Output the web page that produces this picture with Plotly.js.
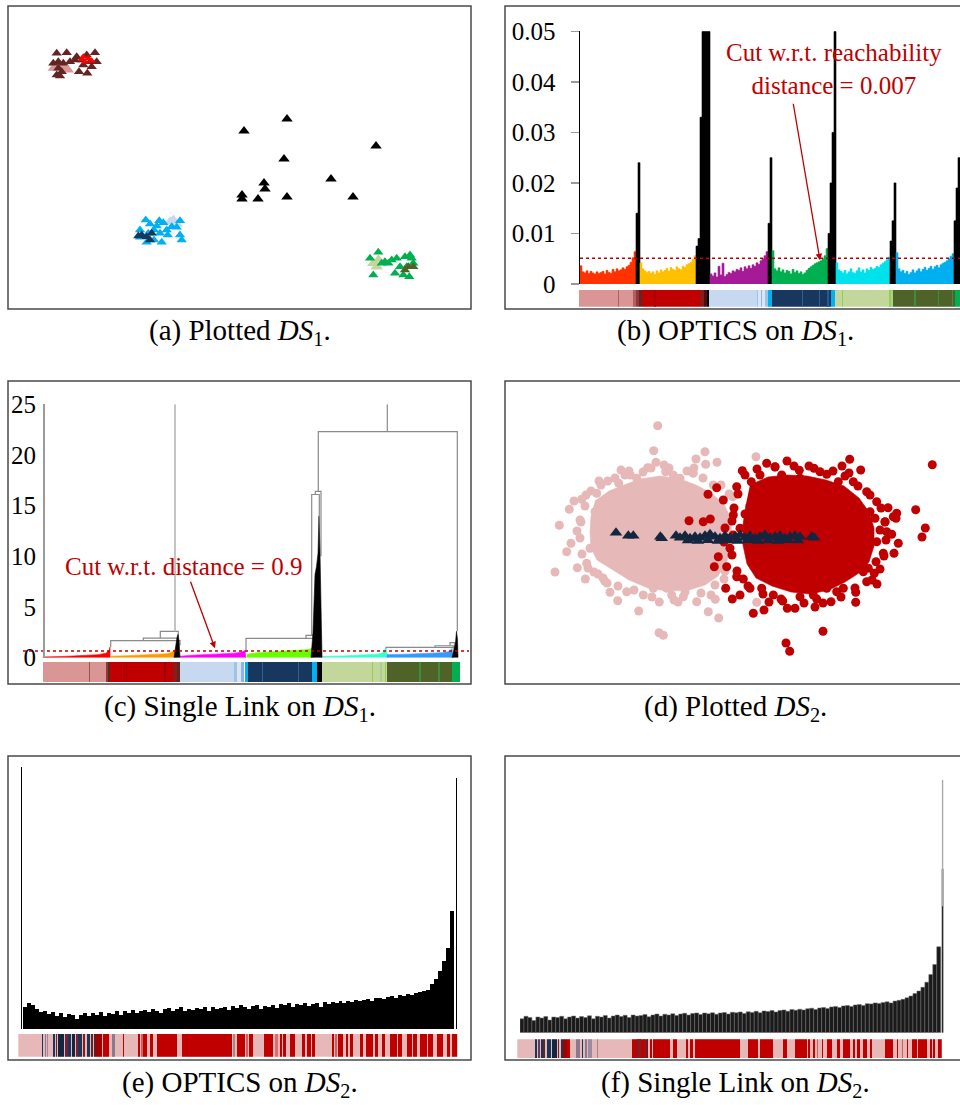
<!DOCTYPE html>
<html>
<head>
<meta charset="utf-8">
<script src="https://cdn.plot.ly/plotly-3.0.1.min.js"></script>
<style>html,body{margin:0;padding:0;background:#fff;}#chart{width:960px;height:1105px;}</style>
</head>
<body>
<div id="chart"></div>
<script>
// ---------------- (a) Plotted DS1 ----------------
const ds1BlackX = [23.6, 27.9, 36.8, 27.6, 25.6, 25.7, 23.4, 23.4, 25.0, 27.9, 32.3, 34.5];
const ds1BlackY = [17.8, 19.0, 16.3, 15.0, 12.6, 12.0, 11.4, 11.0, 11.0, 11.2, 13.0, 11.2];
const ds1PinkX = [4.53, 5.03, 5.7, 6.03, 5.37];
const ds1PinkY = [24.07, 24.23, 24.07, 23.9, 24.3];
const ds1BrownX = [4.87, 5.87, 6.87, 7.87, 8.7, 4.53, 5.03, 5.53, 6.2, 6.7, 7.37, 8.2, 8.87, 5.03, 5.37, 5.2, 4.87, 7.1, 7.93, 7.53, 8.37];
const ds1BrownY = [25.57, 25.63, 25.23, 25.4, 25.63, 24.57, 24.73, 24.57, 24.73, 24.9, 24.9, 24.73, 24.73, 24.07, 23.73, 23.3, 23.4, 23.73, 23.57, 24.4, 24.23];
const ds1RedX = [7.37, 7.7, 8.03, 8.37, 7.53];
const ds1RedY = [24.97, 24.73, 25.07, 24.83, 25.23];
const ds1LightBlueX = [16.2, 16.53, 16.87];
const ds1LightBlueY = [8.73, 8.9, 8.5];
const ds1BlueX = [13.77, 14.2, 15.13, 15.53, 17.2, 16.87, 13.2, 14.03, 14.6, 15.2, 15.97, 17.2, 17.37, 13.87, 14.6, 15.37, 13.2, 15.87, 14.87, 16.37];
const ds1BlueY = [8.9, 8.5, 8.83, 8.63, 8.83, 8.17, 7.9, 7.57, 7.9, 7.57, 7.4, 7.4, 6.9, 6.67, 6.9, 6.67, 7.17, 7.9, 8.3, 8.23];
const ds1NavyX = [13.37, 13.87, 14.37, 14.2, 13.03];
const ds1NavyY = [7.4, 7.23, 7.57, 6.9, 7.3];
const ds1LightGreenX = [36.53, 37.03, 36.87];
const ds1LightGreenY = [4.57, 4.9, 4.23];
const ds1GreenX = [36.2, 37.03, 37.7, 38.37, 38.87, 39.7, 40.2, 40.53, 36.53, 38.7, 39.53, 40.13, 39.2, 39.87, 38.03, 37.37, 40.37];
const ds1GreenY = [5.07, 5.67, 4.73, 4.9, 5.07, 5.23, 5.4, 4.57, 3.4, 3.57, 3.4, 3.23, 4.23, 4.23, 4.57, 4.57, 5.07];
const ds1OliveX = [40.03, 40.53, 39.7];
const ds1OliveY = [4.23, 4.23, 3.9];

// ---------------- (b) OPTICS on DS1 (reachability) ----------------
const reachRed = [0.0036,0.0024,0.0022,0.0026,0.0021,0.0025,0.0022,0.0020,0.0024,0.0021,0.0023,0.0025,0.0020,0.0027,0.0023,0.0021,0.0029,0.0024,0.0030,0.0026,0.0028,0.0032,0.0029,0.0034,0.0037,0.0043,0.0052,0.0064];
const reachSpike1 = [0.0140, 0.0240];
const reachYellow = [0.0042,0.0030,0.0026,0.0023,0.0025,0.0021,0.0024,0.0019,0.0026,0.0022,0.0028,0.0024,0.0027,0.0031,0.0025,0.0033,0.0029,0.0027,0.0034,0.0030,0.0028,0.0035,0.0033,0.0038,0.0040,0.0043,0.0049,0.0056];
const reachSpike2 = [0.0075,0.0090,0.0330,0.0500,0.0500,0.0500,0.0500];
const reachPurple = [0.0020,0.0016,0.0022,0.0014,0.0035,0.0018,0.0041,0.0015,0.0019,0.0023,0.0021,0.0026,0.0024,0.0029,0.0027,0.0032,0.0025,0.0034,0.0030,0.0036,0.0031,0.0038,0.0035,0.0042,0.0039,0.0046,0.0050,0.0056,0.0064];
const reachSpike3 = [0.0120, 0.0250];
const reachGreen = [0.0066,0.0030,0.0026,0.0032,0.0024,0.0028,0.0022,0.0027,0.0025,0.0020,0.0029,0.0023,0.0026,0.0021,0.0024,0.0019,0.0022,0.0027,0.0031,0.0034,0.0037,0.0040,0.0042,0.0044,0.0046,0.0050,0.0056,0.0070];
const reachSpike4 = [0.0100, 0.0200, 0.0300, 0.0500];
const reachCyan = [0.0042,0.0028,0.0025,0.0022,0.0027,0.0020,0.0024,0.0030,0.0023,0.0021,0.0026,0.0032,0.0024,0.0028,0.0022,0.0030,0.0027,0.0033,0.0029,0.0031,0.0035,0.0033,0.0038,0.0041,0.0044,0.0048,0.0053];
const reachSpike5 = [0.0085, 0.0125, 0.0200];
const reachBlue = [0.0062,0.0030,0.0024,0.0027,0.0021,0.0025,0.0019,0.0023,0.0028,0.0022,0.0026,0.0030,0.0024,0.0029,0.0033,0.0027,0.0031,0.0035,0.0029,0.0034,0.0037,0.0032,0.0038,0.0041,0.0043,0.0046,0.0050,0.0055,0.0060];
const reachSpike6 = [0.0125, 0.0190, 0.0250];
const cutB = 0.0051;
const yTicksB = [0, 0.01, 0.02, 0.03, 0.04, 0.05];
const yTickTextB = ['0', '0.01', '0.02', '0.03', '0.04', '0.05'];
const segStartB = [57,173,218,228,236,245,283,420,432,440,448,590,595,603,615,625,635,725,776,800,812,825,846,988,994,1000,1063,1133,1175,1185];
const segEndB   = [225,177,228,236,245,420,287,432,440,448,590,595,615,607,625,635,812,729,780,806,825,995,850,994,1000,1185,1067,1137,1180,1200];
const segColorB = ['#da9694','#b0605e','#b06060','#953735','#632523','#c00000','#a80000','#8b1a1a','#4d1010','#000000','#c6d9f0','#9dc3e6','#dce6f2','#8db4e2','#9dc3e6','#00b0f0','#17375e','#2e6096','#2e6096','#1f5c99','#00b0f0','#c3d69b','#92d050','#92d050','#a9d18e','#4f6228','#3d8c40','#3d8c40','#3d8c40','#00b050'];

// ---------------- (c) Single Link on DS1 (dendrogram) ----------------
const leafRedX = [0, 0, 20, 40, 55, 63, 66, 67, 67];
const leafRedY = [0, 0.08, 0.12, 0.2, 0.3, 0.45, 0.7, 1.05, 0];
const leafOrangeX = [67, 68, 85, 100, 115, 125, 130, 133, 134];
const leafOrangeY = [0, 0.15, 0.2, 0.25, 0.3, 0.4, 0.6, 0.9, 0];
const leafMagentaX = [137, 137, 150, 165, 180, 192, 198, 202, 203];
const leafMagentaY = [0, 0.15, 0.25, 0.3, 0.35, 0.45, 0.55, 0.7, 0];
const leafLimeX = [204, 204, 215, 235, 255, 265, 270, 271];
const leafLimeY = [0, 0.35, 0.5, 0.6, 0.7, 0.8, 0.95, 0];
const leafAquaX = [279, 279, 300, 320, 335, 340, 343, 344];
const leafAquaY = [0, 0.12, 0.18, 0.25, 0.35, 0.5, 1.0, 0];
const leafBlueX = [344, 344, 365, 385, 400, 406, 409, 410];
const leafBlueY = [0, 0.3, 0.35, 0.4, 0.5, 0.6, 0.9, 0];
const spikeC1X = [131, 132.5, 134, 135, 136, 137];
const spikeC1Y = [0, 1.3, 2.0, 2.3, 1.7, 0];
const spikeC2X = [268, 270, 272, 273.5, 275, 276, 277, 278, 279];
const spikeC2Y = [0, 2.5, 8.2, 9.0, 10.3, 14.0, 10.3, 3.0, 0];
const spikeC3X = [409, 411, 412.5, 413.5, 414.5, 415];
const spikeC3Y = [0, 1.0, 1.5, 2.6, 1.8, 0];
const linkLeft  = [67.7, 100.3, 117.3, 203, 263, 268.7, 272.3, 275.3, 343, 392, 407];
const linkRight = [137, 135, 135.3, 271, 274, 276.3, 278, 414.3, 413.7, 410.3, 412];
const linkHeight = [1.68, 1.94, 2.6, 1.91, 2.2, 16.1, 16.4, 22.3, 1.02, 1.18, 1.48];
const linkLeftBase = [1.05, 1.68, 1.94, 0.6, 1.91, 2.2, 16.1, 16.4, 0.9, 1.02, 1.18];
const linkRightBase = [1.2, 1.5, 2.0, 1.2, 1.5, 14, 10, 2.6, 0.9, 0.9, 1.0];
const stemX = [132, 344.3];
const stemBottom = [2.6, 22.3];
const stemTop = [25, 25];
const cutC = 0.66;
const yTicksC = [0, 5, 10, 15, 20, 25];
const segStartC = [40,176,228,234,240,288,403,430,440,450,612,620,632,645,655,695,803,845,862,877,1025,1050,1064,1070,1168,1225,1265];
const segEndC   = [240,180,234,240,448,292,407,440,450,612,620,632,642,655,845,699,807,862,877,1070,1029,1055,1068,1265,1172,1229,1290];
const segColorC = ['#da9694','#a05050','#953735','#632523','#c00000','#a00000','#a00000','#8b1a1a','#632523','#c6d9f0','#9dc3e6','#dce6f2','#8db4e2','#00b0f0','#17375e','#2e6096','#2e6096','#00b0f0','#000000','#c3d69b','#92d050','#a9d18e','#92d050','#4f6228','#3d8c40','#3d8c40','#00b050'];

// ---------------- (d) Plotted DS2 ----------------
const ds2PinkCoreX = [9.0,10.4,11.9,13.5,15.5,17.5,19.1,20.6,21.9,22.6,22.7,22.2,21.3,20.0,18.4,16.2,14.3,12.4,10.8,9.2,8.6,8.5,8.6];
const ds2PinkCoreY = [18.3,19.3,19.9,20.5,20.8,20.5,19.9,19.1,18.0,16.5,14.2,12.3,10.8,9.9,9.4,9.3,9.6,10.4,11.4,12.4,13.6,15.2,16.8];
const ds2PinkX = [15.27,14.87,20.0,19.1,21.2,20.07,15.1,14.27,16.07,11.6,12.53,10.27,11.37,7.67,6.9,9.17,6.43,5.43,7.5,9.0,6.6,6.17,8.5,5.0,7.23,8.17,8.03,9.97,10.5,11.27,12.17,13.37,13.83,15.43,15.4,15.83,16.67,17.83,19.17,20.33,21.37,21.03,25.1,25.17,17.5,18.83,16.83,13.17,16.17,14.83,22.77,20.83,
 8.0,8.6,9.6,11.0,12.4,14.6,16.4,18.2,19.8,21.6,22.4,7.6,7.5,7.7,8.3,9.3,9.8,11.3,12.9,14.7,16.9,18.0,19.6,21.0,22.0,9.4,12.0,7.2,8.9,17.3,20.6,13.8,15.9,18.9,10.2,8.1,21.9];
const ds2PinkY = [25.83,23.33,23.23,22.5,22.17,21.97,22.17,21.63,21.23,21.4,20.9,20.3,20.07,18.47,18.3,19.07,17.47,15.87,16.4,17.23,14.07,13.23,13.57,11.2,11.63,12.07,10.5,10.3,9.17,8.33,9.23,7.3,8.9,8.2,5.13,4.87,8.9,8.73,8.23,7.23,6.6,8.47,22.73,8.17,20.57,21.07,20.9,20.57,9.57,9.57,18.73,19.9,
 17.8,19.3,19.9,20.6,21.3,21.6,21.6,21.3,20.6,19.9,19.0,16.2,14.6,13.0,11.6,11.0,10.6,9.8,9.4,8.7,8.4,9.2,9.1,9.9,11.3,20.3,20.9,15.3,11.2,8.2,8.9,21.2,21.9,21.6,10.1,18.9,10.5];
const ds2RedCoreX = [24.5,26.3,28.2,30.2,32.1,33.9,35.4,36.4,36.9,36.9,36.4,35.4,34.0,32.4,30.5,28.6,26.7,25.1,24.2,23.8,23.8,24.1];
const ds2RedCoreY = [19.9,20.7,20.9,20.8,20.4,19.8,18.6,17.2,15.6,13.8,12.2,11.1,10.2,9.4,9.0,9.2,9.8,10.6,12.0,13.9,15.9,18.0];
const ds2RedX = [42.73,41.07,42.03,41.7,39.33,38.9,39.1,38.3,34.47,33.7,35.57,32.17,30.9,29.43,26.17,27.0,23.73,24.63,23.17,21.17,20.3,21.83,18.4,19.83,20.53,22.83,23.5,22.83,22.5,21.33,20.93,22.17,23.17,22.07,22.73,23.5,24.83,25.9,27.77,28.23,29.0,28.1,28.47,31.8,35.07,35.07,32.6,31.17,32.17,33.83,36.93,37.1,37.83,38.67,37.5,37.17,38.0,37.0,36.5,37.17,36.17,34.83,33.33,33.17,26.17,25.5,27.67,29.5,31.5,23.83,24.5,25.67,26.83,29.5,30.83,33.17,36.17,35.83,36.33,38.83,39.17,38.17,
 24.0,25.2,27.0,28.9,30.4,32.8,34.0,35.3,36.5,37.6,38.0,38.1,37.9,37.5,36.7,35.0,33.6,31.8,29.9,27.6,25.8,24.3,23.2,22.7,22.6,22.7,22.9,23.3,21.9,22.0,28.2,34.4,26.4,31.0,37.2,24.0];
const ds2RedY = [21.93,17.43,15.6,14.7,14.07,13.07,16.57,17.63,22.47,21.8,21.4,20.97,21.57,21.37,22.07,21.73,21.33,20.23,19.73,19.63,18.97,18.4,16.33,16.23,16.5,16.9,15.57,14.9,13.57,12.73,11.73,11.73,10.73,9.57,8.5,8.9,7.07,7.4,8.3,7.57,7.57,4.1,3.27,5.27,9.17,8.17,8.23,8.5,9.57,9.57,11.07,12.23,13.07,14.97,15.4,14.23,16.23,16.57,17.23,18.23,19.23,20.23,20.23,19.4,19.9,20.9,20.9,20.57,21.23,10.5,9.57,9.57,8.9,8.73,8.9,9.23,10.23,11.23,11.57,16.73,17.07,15.23,
 20.9,21.5,21.7,21.8,21.8,21.3,20.8,19.8,18.9,17.6,16.2,14.4,12.8,11.5,10.4,9.6,8.7,8.1,8.1,8.5,9.0,9.8,11.3,12.9,14.6,16.3,17.6,19.0,14.2,15.6,22.3,21.1,8.2,7.7,10.0,17.0];
const ds2TriX = [11.1,12.33,12.83,15.53,15.67,17.1,17.5,18.0,18.5,19.0,19.5,20.0,20.5,21.0,21.5,22.0,22.5,23.0,23.5,24.0,24.5,25.0,25.5,26.0,26.5,27.0,27.5,28.0,28.5,29.0,29.5,30.67,30.93,18.3,19.3,20.3,21.3,22.3,23.3,24.3,25.3,26.3,27.3,28.3,29.3];
const ds2TriY = [15.13,14.83,14.83,14.73,14.57,14.83,14.63,14.83,14.57,14.73,14.63,14.83,14.97,14.73,14.57,14.83,14.63,14.73,14.9,14.63,14.83,14.57,14.73,14.9,14.63,14.73,14.83,14.57,14.73,14.83,14.73,14.73,14.63,14.35,14.3,14.38,14.3,14.35,14.3,14.38,14.3,14.35,14.3,14.38,14.35];

// ---------------- (e) OPTICS on DS2 ----------------
const reachE = [1.0,0.085,0.10,0.092,0.075,
 0.065,0.07,0.058,0.066,0.05,
 0.06,0.045,0.058,0.052,0.04,
 0.055,0.06,0.048,0.062,0.055,
 0.065,0.05,0.06,0.058,0.068,
 0.055,0.07,0.062,0.072,0.06,
 0.07,0.074,0.065,0.078,0.07,
 0.06,0.075,0.08,0.068,0.077,
 0.082,0.07,0.078,0.072,0.08,
 0.075,0.082,0.07,0.085,0.078,
 0.08,0.084,0.072,0.088,0.079,
 0.09,0.083,0.075,0.089,0.092,
 0.078,0.088,0.085,0.093,0.08,
 0.095,0.09,0.098,0.085,0.096,
 0.092,0.1,0.088,0.097,0.1,
 0.085,0.102,0.095,0.104,0.098,
 0.106,0.1,0.108,0.103,0.11,
 0.106,0.112,0.115,0.108,0.118,
 0.12,0.114,0.122,0.125,0.118,
 0.128,0.124,0.132,0.13,0.136,
 0.14,0.145,0.15,0.17,0.19,
 0.22,0.26,0.31,0.45,0.955];
const segStartE = [55,62,127,135,141,146,160,169,175,195,205,215,227,235,249,260,274,282,285,310,335,368,415,423,430,450,470,547,700,710,738,748,792,825,840,850,870,905,920,936,995,1005,1015,1038,1050,1080,1098,1125,1145,1170,1195,1220,1240,1260,1285,1310,1340,1355];
const segEndE   = [1373,64,130,139,145,148,165,172,193,203,213,225,233,245,255,270,280,285,305,327,345,372,420,428,440,460,530,697,705,735,745,758,820,835,845,858,885,915,932,945,1002,1010,1030,1045,1060,1090,1118,1135,1155,1190,1205,1235,1250,1280,1300,1330,1350,1372];
const segColorE = ['#e6b8b7','#e07070','#17375e','#8c7a8c','#9c8aa0','#c00000','#17375e','#632523','#14263f','#6b2340','#17375e','#14263f','#7f1f2f','#17375e','#8b1a1a','#17375e','#632523','#17375e','#a00000','#c00000','#8c7a8c','#c00000','#c00000','#d06060','#c00000','#c00000','#c00000','#c00000','#9c8a8c','#c00000','#d06060','#c00000','#c00000','#d87070','#c00000','#c00000','#c00000','#c00000','#c00000','#c00000','#c00000','#d06060','#c00000','#c00000','#c00000','#c00000','#c00000','#c00000','#c00000','#c00000','#c00000','#c00000','#c00000','#c00000','#c00000','#c00000','#c00000','#c00000'];

// ---------------- (f) Single Link on DS2 ----------------
const heightF = [0.055,0.065,0.06,0.048,0.062,
 0.058,0.064,0.05,0.062,0.06,
 0.065,0.055,0.062,0.066,0.058,
 0.064,0.06,0.067,0.055,0.065,
 0.062,0.068,0.058,0.066,0.07,
 0.064,0.069,0.06,0.07,0.066,
 0.068,0.072,0.063,0.07,0.074,
 0.066,0.073,0.07,0.075,0.068,
 0.074,0.077,0.07,0.076,0.078,
 0.072,0.078,0.075,0.079,0.073,
 0.078,0.08,0.074,0.081,0.079,
 0.082,0.076,0.083,0.08,0.085,
 0.079,0.086,0.084,0.088,0.082,
 0.088,0.09,0.085,0.092,0.089,
 0.093,0.09,0.095,0.097,0.092,
 0.098,0.1,0.096,0.102,0.104,
 0.1,0.106,0.108,0.104,0.11,
 0.112,0.108,0.115,0.114,0.118,
 0.116,0.12,0.122,0.118,0.125,
 0.128,0.132,0.138,0.145,0.155,
 0.165,0.18,0.2,0.23,0.27,
 0.34,0.648];
const topLinkF = [0.5, 1.0];
const segStartF = [112,166,175,182,190,200,215,233,242,250,262,288,305,315,325,352,359,455,470,492,500,510,518,580,618,630,645,680,805,840,910,945,985,1000,1010,1025,1040,1070,1090,1120,1130,1150,1170,1215,1250,1265,1280,1295,1315,1350,1360,1375];
const segEndF   = [1385,170,180,188,195,212,230,238,248,260,270,300,308,320,335,355,361,505,482,496,503,515,570,590,625,638,780,682,835,880,920,980,990,1005,1015,1030,1055,1080,1110,1125,1140,1160,1175,1240,1255,1270,1285,1310,1340,1355,1365,1385];
const segColorF = ['#e6b8b7','#17375e','#6b3a5a','#17375e','#632523','#17375e','#14263f','#8b1a1a','#17375e','#a00000','#c00000','#8c7a8c','#17375e','#8c7a8c','#9c8aa0','#9c8a8c','#c00000','#c00000','#7f1f1f','#8b1a1a','#17375e','#c00000','#c00000','#c00000','#c00000','#c00000','#c00000','#7f1f1f','#c00000','#c00000','#c00000','#c00000','#c00000','#c00000','#d06060','#c00000','#c00000','#c00000','#c00000','#c00000','#c00000','#c00000','#c00000','#c00000','#c00000','#d06060','#c00000','#c00000','#c00000','#c00000','#c00000','#c00000'];

// ---------------- captions ----------------
const captions = ['(a) Plotted <i>DS</i><sub>1</sub>.', '(b) OPTICS on <i>DS</i><sub>1</sub>.', '(c) Single Link on <i>DS</i><sub>1</sub>.', '(d) Plotted <i>DS</i><sub>2</sub>.', '(e) OPTICS on <i>DS</i><sub>2</sub>.', '(f) Single Link on <i>DS</i><sub>2</sub>.'];

// =============== build figure ===============
const W = 960, H = 1105;
const PX = v => v / W;
const PY = v => 1 - v / H;
const SERIF = '"Liberation Serif", "Times New Roman", serif';
const traces = [];

function tri(x, y, color, size, xa, ya) {
  traces.push({type: 'scatter', mode: 'markers', x: x, y: y, xaxis: xa, yaxis: ya, hoverinfo: 'skip',
    marker: {symbol: 'triangle-up', color: color, size: size, line: {width: 0}}});
}
function dots(x, y, color, size, xa, ya) {
  traces.push({type: 'scatter', mode: 'markers', x: x, y: y, xaxis: xa, yaxis: ya, hoverinfo: 'skip',
    marker: {symbol: 'circle', color: color, size: size, line: {width: 0}}});
}
function area(x, y, color, xa, ya) {
  traces.push({type: 'scatter', mode: 'lines', x: x, y: y, fill: 'toself', fillcolor: color, xaxis: xa, yaxis: ya,
    hoverinfo: 'skip', line: {color: color, width: 0.6}});
}
function strip(starts, ends, colors, xa, ya) {
  traces.push({type: 'bar', x: starts.map((s, i) => (s + ends[i]) / 2), y: starts.map(() => 1),
    width: starts.map((s, i) => ends[i] - s), base: 0, xaxis: xa, yaxis: ya, hoverinfo: 'skip',
    marker: {color: colors, line: {width: 0}}});
}

// (a)
tri(ds1BlackX, ds1BlackY, '#000000', 10, 'x', 'y');
tri(ds1PinkX, ds1PinkY, '#da9694', 10, 'x', 'y');
tri(ds1BrownX, ds1BrownY, '#632523', 9, 'x', 'y');
tri(ds1RedX, ds1RedY, '#ff0000', 7, 'x', 'y');
tri(ds1LightBlueX, ds1LightBlueY, '#c6d9f0', 11, 'x', 'y');
tri(ds1BlueX, ds1BlueY, '#00b0f0', 9, 'x', 'y');
tri(ds1NavyX, ds1NavyY, '#17375e', 9, 'x', 'y');
tri(ds1LightGreenX, ds1LightGreenY, '#c3d69b', 11, 'x', 'y');
tri(ds1GreenX, ds1GreenY, '#00b050', 9, 'x', 'y');
tri(ds1OliveX, ds1OliveY, '#4f6228', 9, 'x', 'y');

// (b)
const groupsB = [[reachRed, '#ff3300'], [reachSpike1, '#000000'], [reachYellow, '#ffc000'], [reachSpike2, '#000000'],
  [reachPurple, '#a61c98'], [reachSpike3, '#000000'], [reachGreen, '#00b050'], [reachSpike4, '#000000'],
  [reachCyan, '#00e2ec'], [reachSpike5, '#000000'], [reachBlue, '#00b0f0'], [reachSpike6, '#000000']];
const bY = [], bC = [];
groupsB.forEach(g => g[0].forEach(v => { bY.push(v); bC.push(g[1]); }));
const nB = bY.length;
traces.push({type: 'bar', x: bY.map((v, i) => i), y: bY, width: bY.map(() => 1), xaxis: 'x2', yaxis: 'y2', hoverinfo: 'skip',
  marker: {color: bC, line: {width: 0.6, color: bC}}});
traces.push({type: 'scatter', mode: 'lines', x: [-0.5, nB - 0.5], y: [cutB, cutB], xaxis: 'x2', yaxis: 'y2', hoverinfo: 'skip',
  line: {color: '#c00000', width: 1.6, dash: 'dot'}});
strip(segStartB, segEndB, segColorB, 'x3', 'y3');

// (c)
[[leafRedX, leafRedY, '#ff0000'], [leafOrangeX, leafOrangeY, '#ff9900'], [leafMagentaX, leafMagentaY, '#ff00ff'],
 [leafLimeX, leafLimeY, '#66ff00'], [leafAquaX, leafAquaY, '#33ffcc'], [leafBlueX, leafBlueY, '#3399ff']]
  .forEach(l => area(l[0], l[1], l[2], 'x4', 'y4'));
const lx = [], ly = [];
linkLeft.forEach((xl, i) => {
  lx.push(xl, xl, linkRight[i], linkRight[i], null);
  ly.push(linkLeftBase[i], linkHeight[i], linkHeight[i], linkRightBase[i], null);
});
traces.push({type: 'scatter', mode: 'lines', x: lx, y: ly, xaxis: 'x4', yaxis: 'y4', hoverinfo: 'skip',
  line: {color: '#8a8a8a', width: 1.2}});
traces.push({type: 'scatter', mode: 'lines', x: [stemX[0], stemX[0]], y: [stemBottom[0], stemTop[0]], xaxis: 'x4', yaxis: 'y4',
  hoverinfo: 'skip', line: {color: '#c4c4c4', width: 2}});
traces.push({type: 'scatter', mode: 'lines', x: [stemX[1], stemX[1]], y: [stemBottom[1], stemTop[1]], xaxis: 'x4', yaxis: 'y4',
  hoverinfo: 'skip', line: {color: '#8a8a8a', width: 1.2}});
[[spikeC1X, spikeC1Y], [spikeC2X, spikeC2Y], [spikeC3X, spikeC3Y]].forEach(s => area(s[0], s[1], '#000000', 'x4', 'y4'));
traces.push({type: 'scatter', mode: 'lines', x: [-20, 426], y: [cutC, cutC], xaxis: 'x4', yaxis: 'y4', hoverinfo: 'skip',
  line: {color: '#c00000', width: 1.6, dash: 'dot'}});
strip(segStartC, segEndC, segColorC, 'x5', 'y5');

// (d)
area(ds2PinkCoreX, ds2PinkCoreY, '#e6b8b7', 'x6', 'y6');
dots(ds2PinkX, ds2PinkY, '#e6b8b7', 9, 'x6', 'y6');
area(ds2RedCoreX, ds2RedCoreY, '#c00000', 'x6', 'y6');
dots(ds2RedX, ds2RedY, '#c00000', 9, 'x6', 'y6');
tri(ds2TriX, ds2TriY, '#14263f', 11, 'x6', 'y6');

// (e)
traces.push({type: 'bar', x: reachE.map((v, i) => i), y: reachE,
  width: reachE.map((v, i) => (i === 0 || i === reachE.length - 1) ? 0.35 : 1),
  xaxis: 'x7', yaxis: 'y7', hoverinfo: 'skip', marker: {color: '#000000', line: {width: 0}}});
strip(segStartE, segEndE, segColorE, 'x8', 'y8');

// (f)
const nF = heightF.length;
traces.push({type: 'bar', x: heightF.map((v, i) => i), y: heightF,
  width: heightF.map((v, i) => i === nF - 1 ? 0.4 : 1),
  xaxis: 'x9', yaxis: 'y9', hoverinfo: 'skip', marker: {color: '#1a1a1a', line: {width: 0.5, color: '#707070'}}});
traces.push({type: 'scatter', mode: 'lines', x: [nF - 1, nF - 1], y: topLinkF, xaxis: 'x9', yaxis: 'y9', hoverinfo: 'skip',
  line: {color: '#a8a8a8', width: 1.6}});
strip(segStartF, segEndF, segColorF, 'x10', 'y10');

// axes
function hid(domain, range) { return {domain: domain, range: range, visible: false, fixedrange: true, showgrid: false, zeroline: false}; }
const layout = {
  width: W, height: H, margin: {l: 0, r: 0, t: 0, b: 0}, showlegend: false,
  paper_bgcolor: '#ffffff', plot_bgcolor: 'rgba(0,0,0,0)', barmode: 'overlay', bargap: 0,
  font: {family: SERIF, color: '#000'},
  xaxis: hid([PX(8), PX(471)], [0, 46.3]),
  yaxis: hid([PY(309), PY(6)], [0, 30.3]),
  xaxis2: hid([PX(580), 1], [-0.5, nB - 0.5]),
  yaxis2: {domain: [PY(284), PY(31.3)], range: [0, 0.05], anchor: 'x2', fixedrange: true, showgrid: false, zeroline: false,
    showline: true, linecolor: '#000', linewidth: 1.5, ticks: 'outside', ticklen: 8, tickwidth: 1.5, tickcolor: '#9a9a9a',
    tickvals: yTicksB, ticktext: yTickTextB, ticklabelstandoff: 10, tickfont: {family: SERIF, size: 25, color: '#000'}},
  xaxis3: hid([PX(579), 1], [57, 1200]),
  yaxis3: Object.assign(hid([PY(306.7), PY(290)], [0, 1]), {anchor: 'x3'}),
  xaxis4: hid([PX(23), PX(469)], [-20, 426]),
  yaxis4: {domain: [PY(657.7), PY(404.3)], range: [0, 25], anchor: 'free', position: PX(43), fixedrange: true, showgrid: false,
    zeroline: false, showline: true, linecolor: '#9a9a9a', linewidth: 1.5, ticks: '', tickvals: yTicksC,
    ticklabelstandoff: 2, tickfont: {family: SERIF, size: 25, color: '#000'}},
  xaxis5: hid([PX(43), PX(460)], [39, 1290]),
  yaxis5: Object.assign(hid([PY(682), PY(662)], [0, 1]), {anchor: 'x5'}),
  xaxis6: hid([PX(505), 1], [0, 45.5]),
  yaxis6: Object.assign(hid([PY(684), PY(381)], [0, 30.3]), {anchor: 'x6'}),
  xaxis7: hid([PX(19.3), PX(457)], [-0.5, reachE.length - 0.8]),
  yaxis7: Object.assign(hid([PY(1029), PY(766.5)], [0, 1]), {anchor: 'x7'}),
  xaxis8: hid([PX(18.3), PX(457.7)], [55, 1373]),
  yaxis8: Object.assign(hid([PY(1056.7), PY(1034)], [0, 1]), {anchor: 'x8'}),
  xaxis9: hid([PX(520), PX(943.5)], [-0.5, nF - 0.8]),
  yaxis9: Object.assign(hid([PY(1032.7), PY(780)], [0, 1]), {anchor: 'x9'}),
  xaxis10: hid([PX(517.3), PX(941.7)], [112, 1385]),
  yaxis10: Object.assign(hid([PY(1058.3), PY(1039.3)], [0, 1]), {anchor: 'x10'}),
  shapes: [
    [8, 471, 6, 309], [505, 1010, 6, 309], [8, 471, 381, 684], [505, 1010, 381, 684], [8, 471, 756, 1060], [505, 1010, 756, 1060]
  ].map(b => ({type: 'rect', xref: 'paper', yref: 'paper', x0: PX(b[0]), x1: PX(b[1]), y0: PY(b[3]), y1: PY(b[2]),
    line: {color: '#4a4a4a', width: 1.5}, fillcolor: 'rgba(0,0,0,0)', layer: 'above'})),
  annotations: []
};
const capPos = [[239.5, 332], [735, 332], [239.5, 708], [735, 708], [239.5, 1084], [735, 1084]];
captions.forEach((t, i) => layout.annotations.push({xref: 'paper', yref: 'paper', x: PX(capPos[i][0]), y: PY(capPos[i][1]),
  text: t, showarrow: false, xanchor: 'center', yanchor: 'middle', font: {family: SERIF, size: 29, color: '#000'}}));
layout.annotations.push({xref: 'paper', yref: 'paper', x: PX(834), y: PY(69), text: 'Cut w.r.t. reachability<br>distance = 0.007',
  showarrow: false, xanchor: 'center', yanchor: 'middle', align: 'center', font: {family: SERIF, size: 25, color: '#c00000'}});
layout.annotations.push({xref: 'x2', yref: 'y2', x: 119.5, y: 0.0047, ax: -27, ay: -158, text: '', showarrow: true,
  arrowhead: 2, arrowsize: 1, arrowwidth: 1.3, arrowcolor: '#c00000', standoff: 0});
layout.annotations.push({xref: 'paper', yref: 'paper', x: PX(183), y: PY(566.7), text: 'Cut w.r.t. distance = 0.9',
  showarrow: false, xanchor: 'center', yanchor: 'middle', font: {family: SERIF, size: 25, color: '#c00000'}});
layout.annotations.push({xref: 'x4', yref: 'y4', x: 172, y: 0.93, ax: -25, ay: -68, text: '', showarrow: true,
  arrowhead: 2, arrowsize: 1, arrowwidth: 1.3, arrowcolor: '#c00000', standoff: 0});

Plotly.newPlot('chart', traces, layout, {displayModeBar: false, staticPlot: true});
</script>
</body>
</html>
